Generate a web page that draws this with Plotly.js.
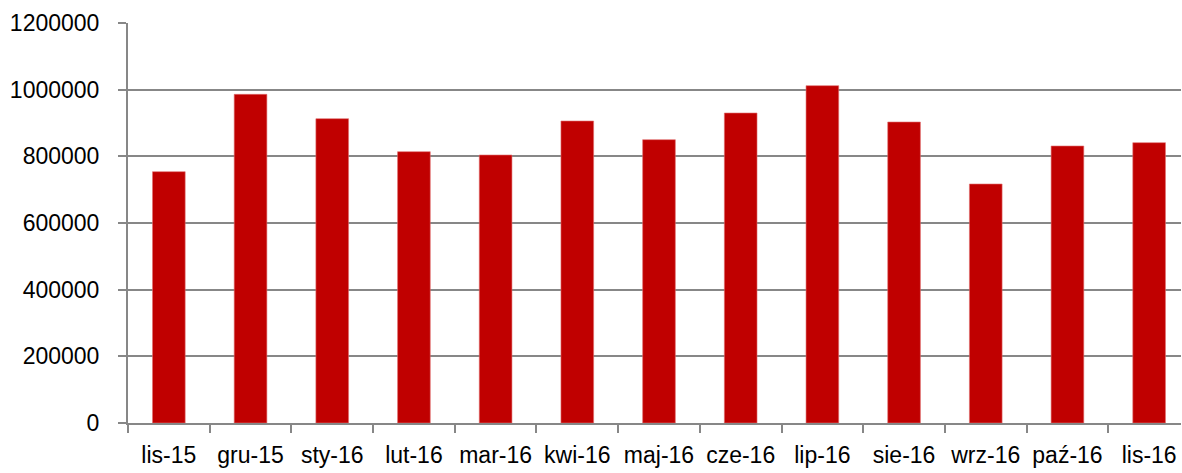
<!DOCTYPE html>
<html>
<head>
<meta charset="utf-8">
<script src="https://cdn.plot.ly/plotly-3.0.1.min.js"></script>
<style>
  html, body { margin: 0; padding: 0; background: #fff; }
  #chart { width: 1182px; height: 473px; }
</style>
</head>
<body>
<div id="chart"></div>
<script>
const categories = ["lis-15", "gru-15", "sty-16", "lut-16", "mar-16", "kwi-16", "maj-16", "cze-16", "lip-16", "sie-16", "wrz-16", "paź-16", "lis-16"];
const values = [754000, 986000, 913000, 814000, 804000, 906000, 850000, 930000, 1012000, 903000, 717000, 831000, 841000];
const yTicks = [0, 200000, 400000, 600000, 800000, 1000000, 1200000];

const trace = {
  type: "bar",
  x: categories,
  y: values,
  width: 0.4,
  marker: { color: "#C00000", line: { color: "#e07070", width: 0.6 } },
  hoverinfo: "x+y"
};

const axisColor = "#878787";
const layout = {
  width: 1182,
  height: 473,
  margin: { l: 128, r: 1, t: 23, b: 50, pad: 0 },
  paper_bgcolor: "#ffffff",
  plot_bgcolor: "#ffffff",
  showlegend: false,
  font: { family: "Liberation Sans, Arial, sans-serif", size: 23, color: "#000" },
  xaxis: {
    type: "category",
    range: [-0.5, 12.39],
    showgrid: false,
    showline: true,
    linecolor: axisColor,
    linewidth: 2,
    ticks: "outside",
    tickson: "boundaries",
    ticklen: 8,
    tickcolor: axisColor,
    tickwidth: 2,
    tickangle: 0,
    ticklabelstandoff: 10,
    zeroline: false
  },
  yaxis: {
    range: [0, 1200000],
    tickvals: yTicks,
    ticktext: yTicks.map(String),
    showgrid: true,
    gridcolor: axisColor,
    gridwidth: 2,
    showline: true,
    linecolor: axisColor,
    linewidth: 2,
    ticks: "outside",
    ticklen: 8,
    tickcolor: axisColor,
    tickwidth: 2,
    ticklabelstandoff: 14,
    zeroline: false
  },
  bargap: 0.6
};

Plotly.newPlot("chart", [trace], layout, { displayModeBar: false, staticPlot: true });
</script>
</body>
</html>
